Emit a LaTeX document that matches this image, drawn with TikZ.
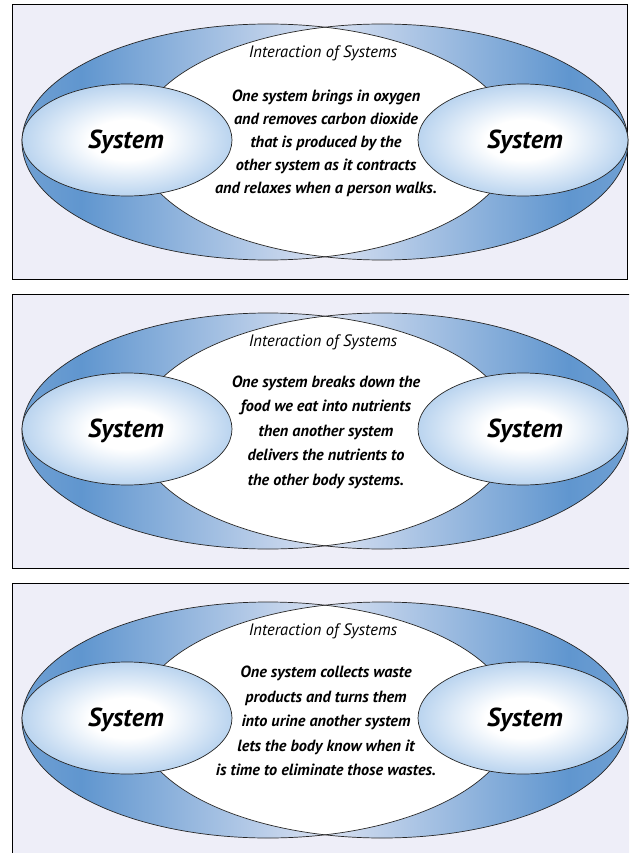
\documentclass[tikz,border=0pt]{standalone}
\usepackage{fontspec}
\setmainfont{PT Sans}

% colours of the panels and the rings
\definecolor{panelbg}{RGB}{238,238,248}
\definecolor{banddark}{RGB}{96,150,207}
\definecolor{bandmid}{RGB}{112,160,211}
\definecolor{bandlight}{RGB}{222,228,243}
\definecolor{sysedge}{RGB}{186,212,239}

% horizontal fades of the two large ellipses (mirror images)
\pgfdeclarehorizontalshading{bandleft}{100bp}{color(0bp)=(bandmid); color(25bp)=(bandmid); color(31bp)=(banddark); color(57bp)=(bandlight); color(75bp)=(panelbg); color(100bp)=(panelbg)}
\pgfdeclarehorizontalshading{bandright}{100bp}{color(0bp)=(panelbg); color(25bp)=(panelbg); color(43bp)=(bandlight); color(69bp)=(banddark); color(75bp)=(bandmid); color(100bp)=(bandmid)}
% soft glow inside the small "System" ellipses
\pgfdeclareradialshading{sysglow}{\pgfpoint{0bp}{0bp}}{color(0bp)=(white); color(9bp)=(white); color(25bp)=(sysedge); color(50bp)=(sysedge)}

\tikzset{
  panel/.style={fill=panelbg, draw=black, line width=1pt},
  ring/.style={draw=black!85, line width=0.7pt},
  syslabel/.style={font=\fontsize{26}{30}\selectfont\bfseries\itshape, inner sep=0pt},
  headtext/.style={font=\fontsize{16.5}{19}\selectfont\itshape, inner sep=0pt},
  bodytext/.style={align=center, inner sep=0pt},
}

% #1 name prefix, #2 vertical offset, #3 right edge, #4 leading, #5 body text
\newcommand\drawpanel[5]{%
  \begin{scope}[yshift=#2pt]
    \filldraw[panel] (12,-5) rectangle (#3,-279);
    \shade[shading=bandleft] (268,-142) ellipse [x radius=246, y radius=118];
    \shade[shading=bandright] (382,-142) ellipse [x radius=246, y radius=118];
    \begin{scope}
      \clip (268,-142) ellipse [x radius=246, y radius=118];
      \fill[white] (382,-142) ellipse [x radius=246, y radius=118];
    \end{scope}
    \draw[ring] (268,-142) ellipse [x radius=246, y radius=118];
    \draw[ring] (382,-142) ellipse [x radius=246, y radius=118];
    \shadedraw[shading=sysglow, ring] (127,-140) ellipse [x radius=105, y radius=56];
    \shadedraw[shading=sysglow, ring] (523,-140) ellipse [x radius=105, y radius=56];
    \node[syslabel] (#1-left) at (126,-142) {System};
    \node[syslabel] (#1-right) at (525,-142) {System};
    \node[headtext] (#1-head) at (323,-53) {Interaction of Systems};
    \node[bodytext, font=\fontsize{16.2}{#4}\selectfont\bfseries\itshape] (#1-body) at (326,-143) {#5};
  \end{scope}}

\begin{document}
\begin{tikzpicture}[x=1pt, y=1pt]
  \useasboundingbox (0,0) rectangle (629,-853);
  \fill[white] (0,0) rectangle (629,-853);
  \begin{scope}
    \clip (0,0) rectangle (629,-853);
    \drawpanel{resp}{0}{627}{23}{One system brings in oxygen\\ and removes carbon dioxide\\ that is produced by the\\ other system as it contracts\\ and relaxes when a person walks.}
    \drawpanel{digest}{-289}{632}{24.5}{One system breaks down the\\ food we eat into nutrients\\ then another system\\ delivers the nutrients to\\ the other body systems.}
    \drawpanel{waste}{-578}{632}{24.5}{One system collects waste\\ products and turns them\\ into urine another system\\ lets the body know when it\\ is time to eliminate those wastes.}
  \end{scope}
\end{tikzpicture}
\end{document}
